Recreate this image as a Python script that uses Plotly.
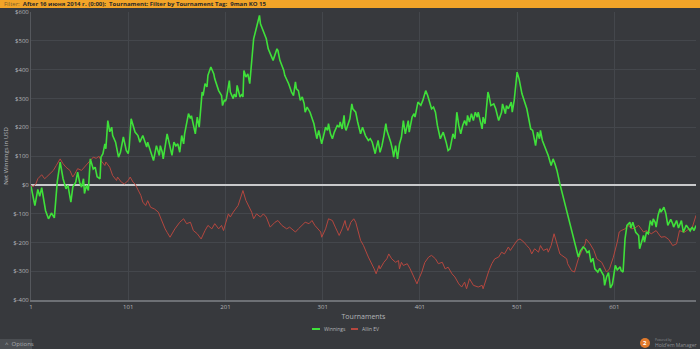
import plotly.graph_objects as go

# Winnings (USD) by tournament number
win_t = [1, 5, 8, 10, 12, 14, 16, 19, 22, 25, 28, 31, 34, 37, 39, 42, 44, 47, 49, 51, 53, 55, 56, 58, 60,
         62, 65, 67, 69, 72, 73, 75, 77, 78, 80, 82, 84, 85, 88, 91, 93, 96, 99, 101, 102, 104, 106, 108,
         111, 113, 116, 120, 121, 123, 127, 130, 133, 134, 136, 137, 141, 146, 148, 150, 152, 154, 156,
         158, 159, 163, 165, 166, 168, 170, 172, 174, 177, 178, 180, 182, 183, 186, 189, 190, 194, 197,
         198, 200, 201, 202, 205, 206, 209, 210, 212, 213, 216, 218, 219, 220, 222, 224, 226, 227, 230,
         233, 234, 236, 237, 239, 241, 243, 245, 249, 250, 254, 255, 257, 261, 262, 266, 269, 271, 273,
         274, 276, 278, 280, 282, 283, 285, 288, 290, 292, 295, 297, 300, 302, 304, 306, 307, 309, 311,
         313, 316, 318, 319, 321, 323, 324, 325, 329, 331, 332, 335, 337, 340, 342, 345, 348, 350, 352,
         355, 356, 358, 360, 362, 364, 366, 367, 371, 373, 374, 376, 378, 380, 382, 384, 386, 389, 390,
         393, 395, 396, 399, 402, 404, 407, 409, 413, 415, 417, 419, 422, 425, 428, 430, 432, 434, 435,
         437, 439, 441, 443, 445, 447, 449, 450, 452, 454, 456, 458, 460, 461, 463, 465, 466, 468, 471,
         472, 474, 477, 479, 482, 485, 486, 489, 490, 492, 495, 496, 498, 501, 503, 506, 511, 515, 517,
         520, 522, 524, 525, 527, 529, 532, 533, 536, 538, 540, 542, 545, 561, 562, 564, 566, 569, 571,
         573, 575, 577, 579, 581, 584, 586, 588, 590, 591, 593, 595, 596, 597, 599, 602, 604, 607, 608,
         610, 612, 614, 617, 618, 620, 621, 623, 626, 627, 631, 632, 634, 636, 638, 640, 641, 643, 644,
         646, 648, 649, 652, 654, 656, 659, 661, 662, 665, 667, 670, 672, 675, 679, 681, 683, 685]
winnings = [-5, -72, -16, -40, -10, -50, -90, -118, -98, -115, 10, 79, 21, -14, -2, -60, -8, 9, 44, 9, -8,
            21, -30, -2, -20, 90, 55, 61, 28, 21, 96, 108, 142, 125, 223, 184, 200, 171, 148, 96, 113, 166,
            119, 108, 131, 229, 206, 183, 171, 148, 171, 131, 148, 125, 84, 136, 102, 136, 113, 90, 177,
            102, 148, 135, 142, 113, 171, 142, 177, 247, 230, 240, 206, 177, 235, 200, 322, 310, 351, 340,
            380, 409, 385, 368, 327, 310, 275, 295, 290, 300, 362, 322, 299, 315, 305, 345, 305, 315, 305,
            397, 374, 385, 351, 397, 507, 547, 565, 588, 559, 542, 524, 507, 472, 443, 432, 472, 466, 432,
            397, 380, 351, 322, 310, 357, 333, 327, 293, 305, 281, 252, 270, 252, 229, 212, 160, 189, 142,
            171, 200, 189, 212, 177, 160, 183, 206, 200, 218, 194, 241, 200, 189, 229, 281, 264, 252, 218,
            177, 200, 171, 154, 160, 148, 108, 125, 154, 113, 136, 171, 212, 189, 148, 119, 96, 136, 90,
            142, 165, 223, 177, 223, 183, 235, 247, 235, 287, 276, 293, 327, 310, 264, 270, 252, 206, 160,
            183, 148, 119, 125, 160, 177, 160, 252, 206, 177, 206, 223, 206, 241, 218, 247, 223, 252, 235,
            252, 223, 194, 235, 212, 322, 310, 275, 281, 264, 223, 252, 281, 247, 275, 264, 287, 252, 293,
            391, 368, 316, 264, 194, 189, 136, 183, 160, 189, 154, 136, 108, 102, 67, 90, 72, 50, 3, -211,
            -233, -251, -230, -216, -222, -235, -230, -269, -255, -292, -303, -290, -303, -315, -349, -320,
            -305, -330, -358, -345, -280, -295, -285, -298, -303, -188, -141, -130, -150, -130, -145, -165,
            -176, -222, -176, -199, -165, -170, -124, -141, -118, -130, -147, -106, -83, -95, -78, -100,
            -141, -120, -135, -147, -124, -150, -124, -165, -140, -160, -147, -159, -141]

# All-in EV (USD) by tournament number
ev_t = [1, 3, 6, 8, 12, 15, 17, 20, 24, 27, 31, 34, 37, 41, 44, 46, 49, 53, 56, 59, 62, 65, 68, 71, 73,
        77, 78, 82, 85, 89, 90, 94, 97, 101, 103, 106, 108, 111, 114, 116, 119, 121, 124, 128, 132, 134,
        137, 139, 141, 144, 149, 154, 158, 161, 165, 168, 172, 176, 180, 183, 187, 190, 194, 197, 199,
        204, 206, 209, 214, 219, 222, 225, 228, 230, 233, 237, 240, 243, 247, 252, 255, 259, 264, 267,
        271, 273, 276, 280, 283, 287, 290, 293, 299, 300, 304, 307, 311, 314, 318, 321, 324, 325, 327,
        330, 333, 335, 340, 343, 348, 354, 356, 359, 360, 364, 367, 369, 372, 376, 379, 380, 382, 384,
        388, 391, 394, 396, 398, 400, 403, 406, 410, 413, 417, 420, 424, 427, 430, 434, 437, 441, 444,
        447, 449, 452, 456, 461, 465, 466, 469, 472, 475, 478, 482, 485, 488, 492, 494, 501, 504, 508,
        511, 514, 516, 519, 523, 525, 528, 532, 533, 536, 539, 542, 545, 547, 552, 553, 557, 560, 564,
        567, 571, 572, 576, 580, 583, 588, 593, 596, 600, 604, 606, 608, 612, 615, 619, 622, 626, 631,
        634, 639, 641, 644, 649, 653, 657, 661, 665, 668, 673, 677, 681, 685]
allin_ev = [0, -7, 3, 21, 35, 21, 27, 38, 50, 67, 90, 73, 61, 50, 27, 38, 56, 50, 61, 73, 84, 96, 92, 99,
            84, 67, 79, 61, 32, 15, 27, 9, 3, 15, 27, 9, 3, -20, -37, -60, -72, -55, -78, -84, -95, -112,
            -141, -153, -165, -182, -153, -130, -118, -135, -130, -159, -170, -188, -159, -141, -153, -135,
            -153, -141, -159, -101, -112, -95, -72, -20, -54, -72, -95, -118, -101, -112, -101, -112, -147,
            -130, -124, -141, -153, -147, -159, -164, -153, -141, -130, -135, -124, -141, -164, -182, -153,
            -118, -124, -147, -176, -153, -124, -141, -159, -130, -118, -130, -193, -211, -251, -292, -309,
            -280, -292, -269, -257, -240, -257, -269, -263, -292, -269, -280, -274, -292, -315, -326, -344,
            -326, -303, -270, -251, -245, -257, -274, -269, -292, -286, -309, -320, -344, -355, -338, -361,
            -326, -349, -355, -349, -361, -326, -298, -274, -257, -251, -234, -240, -216, -228, -193, -188,
            -199, -211, -222, -240, -222, -234, -211, -228, -222, -234, -211, -170, -205, -240, -245, -257,
            -274, -298, -303, -257, -234, -205, -188, -205, -228, -257, -269, -303, -292, -251, -199, -164,
            -159, -153, -141, -153, -150, -141, -164, -159, -170, -165, -159, -182, -180, -190, -211, -205,
            -159, -165, -155, -150, -106]

x_ticks = [1, 101, 201, 301, 401, 501, 601]
y_ticks = [-400, -300, -200, -100, 0, 100, 200, 300, 400, 500, 600]
y_labels = ["$-400", "$-300", "$-200", "$-100", "$0", "$100", "$200", "$300", "$400", "$500", "$600"]

W, H = 700, 349
L, R, T, B = 31, 696, 12, 300


def fx(x):
    return (x - L) / (R - L)


def fy(y):
    return (B - y) / (B - T)


BG = "#37393d"
GRID = "#44474c"
TXT = "#b4b6b9"
FONT = "Open Sans"
GREEN = "#3fe03a"
RED = "#b5473f"

fig = go.Figure()
fig.add_trace(go.Scatter(x=ev_t, y=allin_ev, mode="lines", name="Allin EV",
                         line=dict(color=RED, width=1)))
fig.add_trace(go.Scatter(x=win_t, y=winnings, mode="lines", name="Winnings",
                         line=dict(color=GREEN, width=1.6)))

fig.update_layout(
    width=W, height=H,
    margin=dict(l=L, r=W - R, t=T, b=H - B),
    paper_bgcolor=BG, plot_bgcolor=BG,
    font=dict(family=FONT, size=6, color=TXT),
    showlegend=False,
    xaxis=dict(range=[1, 685], tickvals=x_ticks, ticktext=[str(v) for v in x_ticks],
               showgrid=True, gridcolor=GRID, gridwidth=1, zeroline=False,
               showline=True, linecolor="#6d7075", linewidth=2, ticks="",
               tickfont=dict(size=6, color=TXT),
               title=dict(text="Tournaments", font=dict(size=7, color=TXT), standoff=4)),
    yaxis=dict(range=[-400, 600], tickvals=y_ticks, ticktext=y_labels,
               showgrid=True, gridcolor=GRID, gridwidth=1,
               zeroline=True, zerolinecolor="#c9cacc", zerolinewidth=2,
               showline=True, linecolor="#55585d", linewidth=1, ticks="",
               tickfont=dict(size=6, color=TXT),
               title=dict(text="Net Winnings in USD", font=dict(size=6, color=TXT), standoff=4)),
)

shapes = [
    # filter bar along the top
    dict(type="rect", xref="paper", yref="paper", x0=fx(0), x1=fx(W), y0=fy(8), y1=fy(0),
         fillcolor="#f2a428", line=dict(width=0), layer="above"),
    # options button
    dict(type="rect", xref="paper", yref="paper", x0=fx(0), x1=fx(32), y0=fy(H), y1=fy(339),
         fillcolor="#4b4e52", line=dict(width=0)),
    # logo badge
    dict(type="circle", xref="paper", yref="paper", x0=fx(640), x1=fx(650), y0=fy(348), y1=fy(338),
         fillcolor="#e07a2c", line=dict(width=0)),
    # legend swatches
    dict(type="line", xref="paper", yref="paper", x0=fx(312), x1=fx(320), y0=fy(329), y1=fy(329),
         line=dict(color=GREEN, width=2)),
    dict(type="line", xref="paper", yref="paper", x0=fx(351), x1=fx(358), y0=fy(329), y1=fy(329),
         line=dict(color=RED, width=2)),
]

annotations = [
    dict(xref="paper", yref="paper", x=fx(2), y=fy(4), xanchor="left", yanchor="middle",
         showarrow=False, font=dict(size=6, color="#2a2a2a", family=FONT),
         text="<span style='color:#7b5e2a'>Filter:</span>  <b>After 16 июня 2014 г. (0:00);  "
              "Tournament: Filter by Tournament Tag:  9man KO 15</b>"),
    dict(xref="paper", yref="paper", x=fx(322), y=fy(329), xanchor="left", yanchor="middle",
         showarrow=False, font=dict(size=5, color=TXT), text="Winnings"),
    dict(xref="paper", yref="paper", x=fx(360), y=fy(329), xanchor="left", yanchor="middle",
         showarrow=False, font=dict(size=5, color=TXT), text="Allin EV"),
    dict(xref="paper", yref="paper", x=fx(3), y=fy(344), xanchor="left", yanchor="middle",
         showarrow=False, font=dict(size=6, color="#a9abae"), text="^  Options"),
    dict(xref="paper", yref="paper", x=fx(645), y=fy(343), xanchor="center", yanchor="middle",
         showarrow=False, font=dict(size=6, color="#ffffff"), text="<b>2</b>"),
    dict(xref="paper", yref="paper", x=fx(653), y=fy(339.5), xanchor="left", yanchor="middle",
         showarrow=False, font=dict(size=3, color="#8e9094"), text="Powered by"),
    dict(xref="paper", yref="paper", x=fx(653), y=fy(345), xanchor="left", yanchor="middle",
         showarrow=False, font=dict(size=5, color="#8e9094"), text="Hold'em Manager"),
]

fig.update_layout(shapes=shapes, annotations=annotations)
fig.write_html("out.html")
